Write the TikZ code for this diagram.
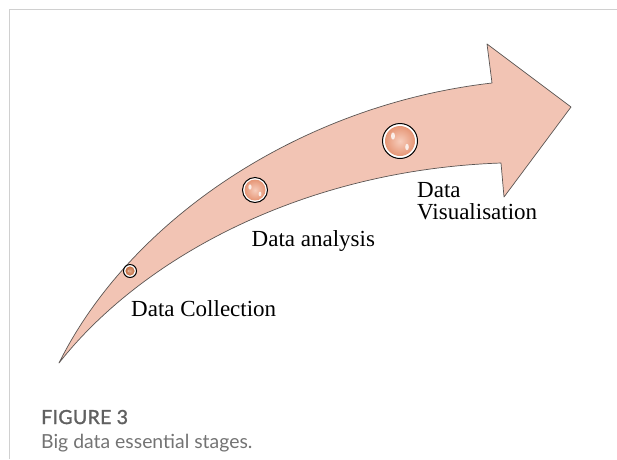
\documentclass[tikz,border=0pt]{standalone}
\usepackage{fontspec}
\setmainfont{Liberation Serif}
\newfontfamily\captionfont{Lato}
\usepackage{xcolor}
\usetikzlibrary{calc}
\definecolor{stagepink}{RGB}{242, 196, 180}
\definecolor{stageedge}{RGB}{90, 85, 83}
\definecolor{stageball}{RGB}{230, 150, 118}
\definecolor{stagelight}{RGB}{247, 205, 188}
\definecolor{stagebrown}{RGB}{196, 108, 62}
\definecolor{framegray}{RGB}{208, 208, 208}
\definecolor{captiondark}{RGB}{96, 96, 96}
\definecolor{captiongray}{RGB}{115, 115, 115}

\tikzset{
  stagelabel/.style={anchor=base west, inner sep=0pt, font=\fontsize{23}{22}\selectfont, text=black},
  stagering/.style={circle, draw=black, line width=1pt, fill=white, inner sep=0pt},
  captiontext/.style={anchor=base west, inner sep=0pt, font=\captionfont\fontsize{19.4}{22}\selectfont}
}

\begin{document}
\begin{tikzpicture}[x=1pt, y=-1pt]
\useasboundingbox (0,0) rectangle (617,459);

% frame
\draw[framegray, line width=1pt] (9,459) -- (9,9.5) -- (617,9.5);

% curved arrow
\draw[fill=stagepink, draw=stageedge, line width=0.7pt, line join=round]
  (59,363) .. controls (130,220) and (300,105) .. (492,83)
  -- (487,44) -- (571,107) -- (504,197) -- (501,163)
  .. controls (300,170) and (140,260) .. (59,363) -- cycle;

% stage balls
\node[stagering, minimum size=13pt] (collect) at (130,271) {};
\shade[inner color=stagebrown!60, outer color=stagebrown] (collect.center) circle (4.6pt);
\fill[white, opacity=.7] ($(collect.center)+(-1.5,0)$) ellipse (1.2pt and 0.6pt);

\node[stagering, minimum size=25pt] (analyse) at (255,190) {};
\shade[inner color=stagelight, outer color=stageball] (analyse.center) circle (10.5pt);
\fill[white, opacity=.8] ($(analyse.center)+(-5,-3)$) ellipse (1.6pt and 2.6pt);
\fill[white, opacity=.8] ($(analyse.center)+(5,4)$) ellipse (1.4pt and 2.4pt);

\node[stagering, minimum size=35pt] (visual) at (400,141) {};
\shade[inner color=stagelight, outer color=stageball] (visual.center) circle (15pt);
\fill[white, opacity=.8] ($(visual.center)+(-7,-5)$) ellipse (2pt and 3.6pt);
\fill[white, opacity=.8] ($(visual.center)+(7,6)$) ellipse (1.8pt and 3.2pt);

% labels
\node[stagelabel] (collectlabel) at (131,316.5) {Data Collection};
\node[stagelabel] (analyselabel) at (251.5,246.5) {Data analysis};
\node[stagelabel] (visuallabel1) at (417,197) {Data};
\node[stagelabel] (visuallabel2) at (417,219) {Visualisation};

% caption
\node[captiontext, text=captiondark] (figno) at (41,424) {\addfontfeature{FakeBold=1.5,LetterSpace=2}FIGURE 3};
\node[captiontext, text=captiongray] (figcaption) at (41,448) {Big data essential stages.};
\end{tikzpicture}
\end{document}
